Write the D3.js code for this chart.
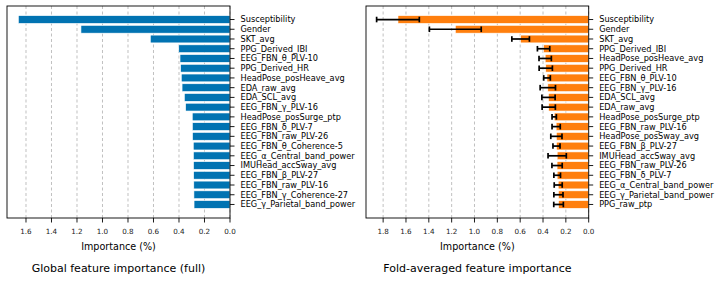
<!DOCTYPE html>
<html><head><meta charset="utf-8">
<script src="https://cdn.jsdelivr.net/npm/d3@7"></script>
<style>
html,body{margin:0;padding:0;background:#fff;}
svg{display:block;font-family:"DejaVu Sans",sans-serif;}
</style></head>
<body><svg id="chart" width="718" height="281"></svg>
<script>
const leftFeatures = ["Susceptibility","Gender","SKT_avg","PPG_Derived_IBI","EEG_FBN_θ_PLV-10","PPG_Derived_HR","HeadPose_posHeave_avg","EDA_raw_avg","EDA_SCL_avg","EEG_FBN_γ_PLV-16","HeadPose_posSurge_ptp","EEG_FBN_δ_PLV-7","EEG_FBN_raw_PLV-26","EEG_FBN_θ_Coherence-5","EEG_α_Central_band_power","IMUHead_accSway_avg","EEG_FBN_β_PLV-27","EEG_FBN_raw_PLV-16","EEG_FBN_γ_Coherence-27","EEG_γ_Parietal_band_power"];
const leftValues = [1.660,1.169,0.625,0.402,0.392,0.387,0.382,0.376,0.358,0.348,0.296,0.295,0.294,0.288,0.287,0.286,0.285,0.284,0.283,0.282];

const rightFeatures = ["Susceptibility","Gender","SKT_avg","PPG_Derived_IBI","HeadPose_posHeave_avg","PPG_Derived_HR","EEG_FBN_θ_PLV-10","EEG_FBN_γ_PLV-16","EDA_SCL_avg","EDA_raw_avg","HeadPose_posSurge_ptp","EEG_FBN_raw_PLV-16","HeadPose_posSway_avg","EEG_FBN_β_PLV-27","IMUHead_accSway_avg","EEG_FBN_raw_PLV-26","EEG_FBN_δ_PLV-7","EEG_α_Central_band_power","EEG_γ_Parietal_band_power","PPG_raw_ptp"];
const rightMeans = [1.670,1.168,0.596,0.395,0.381,0.376,0.365,0.358,0.352,0.350,0.302,0.285,0.283,0.282,0.276,0.277,0.276,0.267,0.265,0.264];
const rightErrors = [0.187,0.227,0.077,0.054,0.054,0.058,0.029,0.067,0.058,0.058,0.019,0.036,0.049,0.031,0.080,0.045,0.029,0.035,0.040,0.042];

const xTicksLeft = [1.6,1.4,1.2,1.0,0.8,0.6,0.4,0.2,0.0];
const xTicksRight = [1.8,1.6,1.4,1.2,1.0,0.8,0.6,0.4,0.2,0.0];

(function(){
const svg = d3.select("#chart");
const yTop = 6, yBottom = 218;
const tickFont = 8.2;
const xTickFont = 7.2;

function panel(cfg){
  const g = svg.append("g");
  const x = d3.scaleLinear().domain([cfg.xmax, 0]).range([cfg.x0, cfg.x1]);
  const n = cfg.features.length;
  const y = d3.scaleLinear().domain([-0.4-0.99, n-1+0.4+0.99]).range([yTop, yBottom]);
  g.selectAll("line.grid").data(cfg.ticks).join("line")
    .attr("x1", d=>x(d)).attr("x2", d=>x(d)).attr("y1", yTop).attr("y2", yBottom)
    .attr("stroke", "#b0b0b0").attr("stroke-width", 0.8).attr("stroke-dasharray", "3,2.5");
  g.selectAll("rect.bar").data(cfg.values).join("rect")
    .attr("x", d=>x(d)).attr("width", d=>x(0)-x(d))
    .attr("y", (d,i)=>y(i-0.4)).attr("height", (d,i)=>y(i+0.4)-y(i-0.4))
    .attr("fill", cfg.color).attr("stroke", "#fff").attr("stroke-width", 0.6);
  if (cfg.errors){
    const eg = g.append("g").attr("stroke", "#000").attr("stroke-width", 1.7);
    cfg.values.forEach((v,i)=>{
      const e = cfg.errors[i], cy = y(i);
      eg.append("line").attr("x1", x(v+e)).attr("x2", x(v-e)).attr("y1", cy).attr("y2", cy);
      eg.append("line").attr("x1", x(v+e)).attr("x2", x(v+e)).attr("y1", cy-2.8).attr("y2", cy+2.8);
      eg.append("line").attr("x1", x(v-e)).attr("x2", x(v-e)).attr("y1", cy-2.8).attr("y2", cy+2.8);
    });
  }
  g.append("rect").attr("x", cfg.x0).attr("y", yTop).attr("width", cfg.x1-cfg.x0).attr("height", yBottom-yTop)
    .attr("fill", "none").attr("stroke", "#000").attr("stroke-width", 0.9);
  const yt = g.append("g");
  cfg.features.forEach((f,i)=>{
    yt.append("line").attr("x1", cfg.x1).attr("x2", cfg.x1+4.5).attr("y1", y(i)).attr("y2", y(i))
      .attr("stroke", "#000").attr("stroke-width", 0.9);
    yt.append("text").attr("x", cfg.x1+10.5).attr("y", y(i)).attr("dy", "0.36em")
      .attr("font-size", tickFont).attr("fill", "#000").text(f);
  });
  cfg.ticks.forEach(t=>{
    g.append("line").attr("x1", x(t)).attr("x2", x(t)).attr("y1", yBottom).attr("y2", yBottom+4.5)
      .attr("stroke", "#000").attr("stroke-width", 0.9);
    g.append("text").attr("x", x(t)).attr("y", 234.4).attr("text-anchor", "middle")
      .attr("font-size", xTickFont).attr("fill", "#222").text(d3.format(".1f")(t));
  });
  const cx = (cfg.x0+cfg.x1)/2;
  g.append("text").attr("x", cx).attr("y", 250.2).attr("text-anchor", "middle")
    .attr("font-size", 9.6).attr("fill", "#000").text("Importance (%)");
  g.append("text").attr("x", cx).attr("y", 272.2).attr("text-anchor", "middle")
    .attr("font-size", 11).attr("fill", "#000").text(cfg.title);
}

panel({x0:7, x1:230, xmax:1.749, features:leftFeatures, values:leftValues, color:"#0173b2",
  ticks:xTicksLeft, title:"Global feature importance (full)"});
panel({x0:366, x1:588.7, xmax:1.95, features:rightFeatures, values:rightMeans, errors:rightErrors, color:"#ff7f0e",
  ticks:xTicksRight, title:"Fold-averaged feature importance"});
})();
</script></body></html>
